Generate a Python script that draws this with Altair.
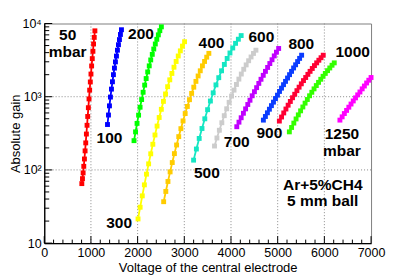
import altair as alt
import pandas as pd

# ---------------- data ----------------
series_names = ["50", "100", "200", "300", "400", "500", "600", "700", "800", "900", "1000", "1250"]
series_colors = ["#ff0000", "#0000ff", "#00ff00", "#ffff00", "#ffcc00", "#14e6c3",
                 "#cccccc", "#c000ff", "#0a3cff", "#ff0033", "#33ff00", "#ff00ff"]

v50 = [805, 819, 833, 847, 861, 875, 889, 903, 917, 931, 945, 959, 973, 987, 1001, 1015, 1029, 1043, 1057, 1071, 1085]
g50 = [65, 76, 91, 112, 141, 182, 234, 309, 407, 537, 708, 933, 1230, 1590, 2040, 2630, 3310, 4170, 5250, 6460, 7940]

v100 = [1355, 1376, 1397, 1418, 1440, 1461, 1482, 1504, 1525, 1547, 1568, 1590, 1611, 1632, 1654]
g100 = [417, 562, 750, 989, 1270, 1600, 2000, 2460, 2990, 3590, 4320, 5130, 6030, 7080, 8220]

v200 = [1923, 1956, 1988, 2021, 2053, 2086, 2118, 2151, 2183, 2216, 2249, 2281, 2314, 2346, 2379, 2411, 2444, 2476, 2509]
g200 = [251, 331, 432, 560, 718, 914, 1150, 1440, 1770, 2180, 2640, 3180, 3790, 4480, 5250, 6080, 7000, 7980, 9000]

v300 = [2009, 2054, 2100, 2145, 2190, 2236, 2281, 2326, 2372, 2417, 2462, 2508, 2553, 2598, 2643, 2689, 2734, 2779, 2825, 2870, 2915, 2961, 3006]
g300 = [21.4, 30.9, 44.2, 62.5, 87.5, 121, 166, 224, 300, 397, 520, 673, 863, 1090, 1370, 1700, 2080, 2530, 3030, 3600, 4230, 4910, 5640]

v400 = [2558, 2604, 2650, 2696, 2742, 2788, 2835, 2881, 2927, 2973, 3019, 3065, 3111, 3157, 3203, 3249, 3296, 3342, 3388, 3434, 3480, 3526]
g400 = [36.8, 50.8, 69.5, 94.0, 126, 167, 219, 285, 366, 467, 589, 736, 910, 1110, 1350, 1620, 1920, 2260, 2640, 3030, 3470, 3910]

v500 = [3199, 3259, 3319, 3379, 3439, 3499, 3559, 3619, 3678, 3738, 3798, 3858, 3918, 3978, 4038, 4098, 4158, 4218]
g500 = [136, 193, 269, 368, 499, 665, 873, 1130, 1450, 1820, 2260, 2760, 3330, 3960, 4630, 5360, 6100, 6840]

v600 = [3647, 3699, 3751, 3804, 3856, 3908, 3960, 4012, 4065, 4117, 4169, 4221, 4273, 4325, 4378, 4430, 4482, 4534]
g600 = [212, 273, 348, 441, 551, 684, 839, 1020, 1230, 1470, 1740, 2040, 2370, 2720, 3100, 3490, 3900, 4320]

v700 = [4124, 4171, 4218, 4266, 4313, 4360, 4407, 4454, 4502, 4549, 4596, 4643, 4691, 4738, 4785, 4832, 4879, 4927, 4974, 5021]
g700 = [389, 449, 516, 594, 682, 783, 895, 1030, 1170, 1330, 1520, 1730, 1960, 2220, 2510, 2840, 3200, 3610, 4060, 4560]

v800 = [4694, 4737, 4780, 4823, 4866, 4910, 4953, 4996, 5039, 5082, 5125, 5168, 5211, 5254, 5297, 5341, 5384, 5427, 5470, 5513]
g800 = [479, 537, 603, 675, 755, 843, 944, 1050, 1180, 1310, 1460, 1620, 1800, 2000, 2220, 2470, 2730, 3020, 3340, 3690]

v900 = [5036, 5083, 5130, 5177, 5224, 5271, 5318, 5365, 5412, 5459, 5506, 5553, 5600, 5647, 5694, 5741, 5788, 5835, 5882, 5929, 5976]
g900 = [465, 528, 600, 679, 766, 861, 968, 1080, 1210, 1350, 1500, 1660, 1830, 2020, 2220, 2430, 2660, 2900, 3150, 3410, 3690]

v1000 = [5250, 5298, 5346, 5394, 5442, 5491, 5539, 5587, 5635, 5683, 5731, 5779, 5827, 5875, 5923, 5972, 6020, 6068, 6116, 6164, 6212]
g1000 = [331, 380, 436, 497, 565, 641, 724, 817, 916, 1030, 1150, 1280, 1420, 1570, 1730, 1900, 2080, 2270, 2470, 2690, 2900]

v1250 = [6333, 6381, 6428, 6476, 6524, 6571, 6619, 6667, 6714, 6762, 6810, 6857, 6905, 6952, 7000]
g1250 = [479, 531, 589, 650, 719, 794, 875, 964, 1060, 1160, 1280, 1400, 1540, 1680, 1830]

label_text = ["50\nmbar", "100", "200", "300", "400", "500", "600", "700", "800", "900",
              "1000", "1250\nmbar", "Ar+5%CH4\n5 mm ball"]
label_v = [503, 1397, 2073, 1603, 3583, 3483, 4651, 4124, 5506, 4823, 6607, 6376, 5965]
label_g = [5880, 235, 6240, 16.3, 4560, 76.7, 5610, 208, 4420, 270, 3436, 262, 53.6]

x_major = [0, 1000, 2000, 3000, 4000, 5000, 6000, 7000]
x_minor = [200, 400, 600, 800, 1200, 1400, 1600, 1800, 2200, 2400, 2600, 2800, 3200, 3400, 3600, 3800,
           4200, 4400, 4600, 4800, 5200, 5400, 5600, 5800, 6200, 6400, 6600, 6800]
y_major = [10, 100, 1000, 10000]
y_minor = [20, 30, 40, 50, 60, 70, 80, 90, 200, 300, 400, 500, 600, 700, 800, 900,
           2000, 3000, 4000, 5000, 6000, 7000, 8000, 9000]
x_grid = [1000, 2000, 3000, 4000, 5000, 6000]
y_grid = [100, 1000]

# ---------------- tables ----------------
all_v = [v50, v100, v200, v300, v400, v500, v600, v700, v800, v900, v1000, v1250]
all_g = [g50, g100, g200, g300, g400, g500, g600, g700, g800, g900, g1000, g1250]
rows = []
for name, vs, gs in zip(series_names, all_v, all_g):
    for v, g in zip(vs, gs):
        rows.append({"series": name, "voltage": v, "gain": g})
df = pd.DataFrame(rows)
labels_df = pd.DataFrame({"voltage": label_v, "gain": label_g, "label": label_text})

FONT = "Liberation Sans"
W, H = 327.4, 220

xscale = alt.Scale(domain=[0, 7000], nice=False, zero=False)
yscale = alt.Scale(type="log", domain=[10, 10000], nice=False)
color = alt.Color("series:N", scale=alt.Scale(domain=series_names, range=series_colors), legend=None)

x_axis = alt.Axis(values=x_major, format="d", ticks=False, grid=False, domainColor="black",
                  domainWidth=1.3, labelFont=FONT, labelFontSize=12.5, labelColor="black",
                  labelPadding=3, labelFlush=False, labelOverlap=False,
                  title="Voltage of the central electrode", titleFont=FONT, titleFontSize=13,
                  titleFontWeight="normal", titleColor="black", titleY=28.4,
                  titleBaseline="alphabetic")
y_axis = alt.Axis(values=y_major,
                  labelExpr="datum.value == 10 ? '10' : datum.value == 100 ? '10²' : datum.value == 1000 ? '10³' : '10⁴'",
                  ticks=False, grid=False, domainColor="black", domainWidth=1.3,
                  labelFont=FONT, labelFontSize=12.5, labelColor="black", labelPadding=3,
                  labelFlush=False, labelOverlap=False,
                  title="Absolute gain", titleFont=FONT, titleFontSize=13, titleFontWeight="normal",
                  titleColor="black", titleX=-25, titleY=H / 2, titleAngle=270,
                  titleAlign="center", titleBaseline="alphabetic")

X = alt.X("voltage:Q", scale=xscale, axis=x_axis)
Y = alt.Y("gain:Q", scale=yscale, axis=y_axis)

xgrid = alt.Chart(pd.DataFrame({"voltage": x_grid})).mark_rule(
    color="#8a8a8a", strokeDash=[1, 2], strokeWidth=1
).encode(x=X)

ygrid = alt.Chart(pd.DataFrame({"gain": y_grid})).mark_rule(
    color="#8a8a8a", strokeDash=[1, 2], strokeWidth=1
).encode(y=Y)

lines = alt.Chart(df).mark_line(strokeWidth=1.8, clip=False).encode(
    x=X, y=Y, color=color, detail="series:N",
)

points = alt.Chart(df).mark_square(size=24, opacity=1, clip=False).encode(
    x=X, y=Y, color=color,
)

xt_major = alt.Chart(pd.DataFrame({"voltage": x_major})).mark_rule(color="black", strokeWidth=1).encode(
    x=X, y=alt.value(H), y2=alt.value(H - 7))
xt_minor = alt.Chart(pd.DataFrame({"voltage": x_minor})).mark_rule(color="black", strokeWidth=1).encode(
    x=X, y=alt.value(H), y2=alt.value(H - 3.5))
yt_major = alt.Chart(pd.DataFrame({"gain": y_major})).mark_rule(color="black", strokeWidth=1).encode(
    y=Y, x=alt.value(0), x2=alt.value(8))
yt_minor = alt.Chart(pd.DataFrame({"gain": y_minor})).mark_rule(color="black", strokeWidth=1).encode(
    y=Y, x=alt.value(0), x2=alt.value(5))

texts = alt.Chart(labels_df).mark_text(
    font=FONT, fontSize=15.5, fontWeight="bold", color="black", align="center",
    baseline="alphabetic", lineBreak="\n", lineHeight=16.5
).encode(
    x=X, y=Y, text="label:N",
)

chart = alt.layer(
    xgrid, ygrid, lines, points, xt_major, xt_minor, yt_major, yt_minor, texts
).properties(
    width=W, height=H,
    padding={"left": 36.3, "top": 15.3, "right": 30, "bottom": 32},
    autosize=alt.AutoSizeParams(type="none"),
    background="white",
).configure_view(
    stroke="#808080", strokeWidth=1
)

chart.save("out.html", embed_options={"renderer": "svg", "actions": False})
